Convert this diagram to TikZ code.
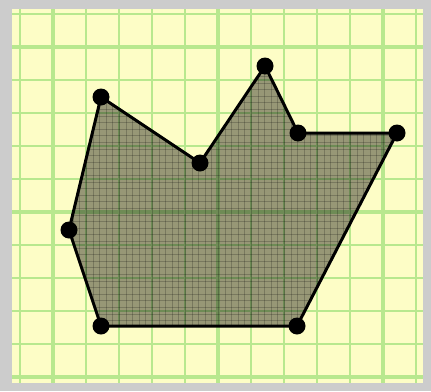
\documentclass[tikz,border=0pt]{standalone}
\definecolor{bggray}{RGB}{204,204,204}
\definecolor{paper}{RGB}{253,253,198}
\definecolor{gridgreen}{RGB}{184,232,142}
\begin{document}
\begin{tikzpicture}[x=1pt,y=-1pt,
  vertex/.style={circle,fill=black,inner sep=0pt,minimum size=17pt},
  thingrid/.style={gridgreen,line width=2.4pt},
  thickgrid/.style={gridgreen,line width=4pt},
  finegrid/.style={black,opacity=0.2,line width=0.8pt},
  edge/.style={black,line width=3pt,line join=round}]
\useasboundingbox (0,0) rectangle (431,391);
\fill[bggray] (0,0) rectangle (431,391);
\fill[paper] (12,9) rectangle (423,383);
\begin{scope}
  \clip (12,9) rectangle (423,383);
  \foreach \i in {0,2,3,4,5,7,8,9,10,12}
    \draw[thingrid] ({20+33*\i},9) -- ({20+33*\i},383);
  \foreach \i in {1,6,11}
    \draw[thickgrid] ({20+33*\i},9) -- ({20+33*\i},383);
  \foreach \j in {0,2,3,4,5,7,8,9,10}
    \draw[thingrid] (12,{14+33*\j}) -- (423,{14+33*\j});
  \foreach \j in {1,6,11}
    \draw[thickgrid] (12,{14+33*\j}) -- (423,{14+33*\j});
\end{scope}
\coordinate (p1) at (101,97);
\coordinate (p2) at (200,163);
\coordinate (p3) at (265,66);
\coordinate (p4) at (298,133);
\coordinate (p5) at (397,133);
\coordinate (p6) at (297,326);
\coordinate (p7) at (101,326);
\coordinate (p8) at (69,230);
\fill[black,opacity=0.4] (p1) -- (p2) -- (p3) -- (p4) -- (p5) -- (p6) -- (p7) -- (p8) -- cycle;
\begin{scope}
  \clip (p1) -- (p2) -- (p3) -- (p4) -- (p5) -- (p6) -- (p7) -- (p8) -- cycle;
  \foreach \k in {0,...,55}
    \draw[finegrid] ({60+6.6*\k},50) -- ({60+6.6*\k},340);
  \foreach \k in {0,...,45}
    \draw[finegrid] (60,{50+6.6*\k}) -- (410,{50+6.6*\k});
\end{scope}
\draw[edge] (p1) -- (p2) -- (p3) -- (p4) -- (p5) -- (p6) -- (p7) -- (p8) -- cycle;
\foreach \n in {1,...,8}
  \node[vertex] (v\n) at (p\n) {};
\end{tikzpicture}
\end{document}
